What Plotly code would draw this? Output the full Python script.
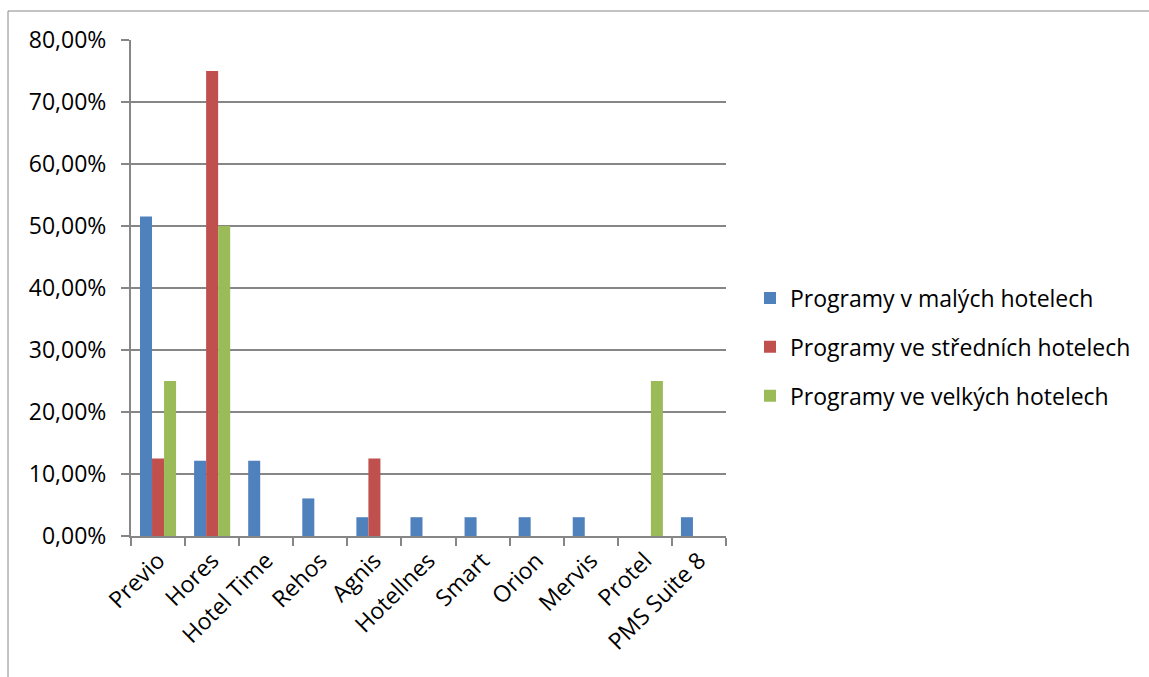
import plotly.graph_objects as go

categories = ["Previo", "Hores", "Hotel Time", "Rehos", "Agnis", "Hotellnes",
              "Smart", "Orion", "Mervis", "Protel", "PMS Suite 8"]
small = [0.5152, 0.1212, 0.1212, 0.0606, 0.0303, 0.0303, 0.0303, 0.0303, 0.0303, None, 0.0303]
medium = [0.125, 0.75, None, None, 0.125, None, None, None, None, None, None]
large = [0.25, 0.50, None, None, None, None, None, None, None, 0.25, None]

series_names = ["Programy v malých hotelech", "Programy ve středních hotelech",
                "Programy ve velkých hotelech"]
colors = ["#4F81BD", "#C0504D", "#9BBB59"]

FONT = "Open Sans"
FS = 23
GRID = "#868686"

fig = go.Figure()
for i, (name, vals) in enumerate(zip(series_names, [small, medium, large])):
    fig.add_trace(go.Bar(
        x=categories, y=vals, name=name,
        marker=dict(color=colors[i], line=dict(width=0)),
        legendgroup=f"g{i}",
    ))

W, H = 1149, 677
L, R, T, B = 131, 1149 - 726, 40, 677 - 536
pw, ph = W - L - R, H - T - B

fig.update_layout(
    width=W, height=H,
    margin=dict(l=L, r=R, t=T, b=B, autoexpand=False),
    paper_bgcolor="white", plot_bgcolor="white",
    barmode="group", bargap=0.333, bargroupgap=0,
    separators=", ",
    font=dict(family=FONT, size=FS, color="#000000"),
    showlegend=True,
    legend=dict(
        x=(750 - L) / pw, xanchor="left",
        y=(536 - 347) / ph, yanchor="middle",
        font=dict(family=FONT, size=FS, color="#000000"),
        tracegroupgap=16,
        bgcolor="rgba(0,0,0,0)",
    ),
    xaxis=dict(
        type="category",
        tickangle=-45,
        tickson="boundaries",
        ticks="outside", ticklen=8, tickcolor=GRID, tickwidth=2,
        showline=True, linecolor=GRID, linewidth=2,
        showgrid=False,
        tickfont=dict(family=FONT, size=FS),
    ),
    yaxis=dict(
        range=[0, 0.8], dtick=0.1, tickformat=".2%",
        ticks="outside", ticklen=8, tickcolor=GRID, tickwidth=2,
        showline=True, linecolor=GRID, linewidth=2,
        showgrid=True, gridcolor=GRID, gridwidth=2,
        zeroline=False,
        ticklabelstandoff=10,
        tickfont=dict(family=FONT, size=FS),
    ),
    shapes=[dict(
        type="rect", xref="paper", yref="paper",
        x0=(8 - L) / pw, x1=(1160 - L) / pw,
        y0=(536 - 700) / ph, y1=(536 - 11) / ph,
        line=dict(color="#888888", width=1), fillcolor="rgba(0,0,0,0)",
        layer="below",
    )],
)

fig.write_html("out.html")
